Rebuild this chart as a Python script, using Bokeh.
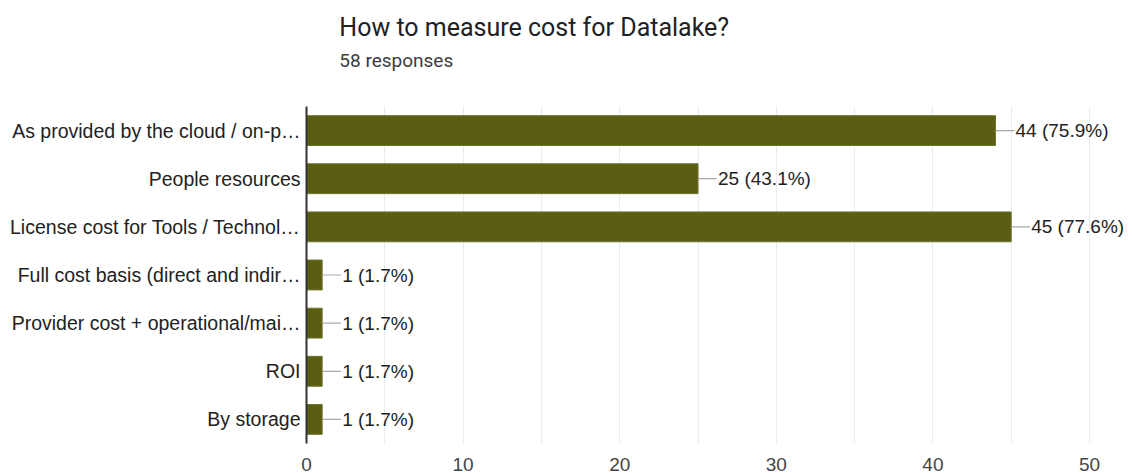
from bokeh.plotting import figure
from bokeh.layouts import column
from bokeh.models import FactorRange, Range1d, FixedTicker, ColumnDataSource, LabelSet
from bokeh.core.properties import value
from bokeh.embed import file_html
from bokeh.resources import INLINE

categories = [
    "As provided by the cloud / on-p…",
    "People resources",
    "License cost for Tools / Technol…",
    "Full cost basis (direct and indir…",
    "Provider cost + operational/mai…",
    "ROI",
    "By storage",
]
counts = [44, 25, 45, 1, 1, 1, 1]
percents = ["75.9%", "43.1%", "77.6%", "1.7%", "1.7%", "1.7%", "1.7%"]
x_ticks = [0, 10, 20, 30, 40, 50]
x_max = 50
title_text = "How to measure cost for Datalake?"
subtitle_text = "58 responses"

labels = [f"{c} ({p})" for c, p in zip(counts, percents)]
src = ColumnDataSource(dict(cat=categories, count=counts, label=labels,
                            end=[c + 1.2 for c in counts]))
factors = list(reversed(categories))

# ---- header (title + subtitle) ----
head = figure(width=1132, height=106, x_range=Range1d(0, 1132), y_range=Range1d(106, 0),
              x_axis_type=None, y_axis_type=None, output_backend="svg",
              toolbar_location=None, min_border=0)
head.outline_line_color = None
head.grid.grid_line_color = None
head.text(x=[45], y=[27], text=[title_text], text_font=value("Roboto"),
          text_font_size="25px", text_baseline="middle", text_align="left",
          text_color="#202124")
head.text(x=[45], y=[60], text=[subtitle_text], text_font=value("Roboto"),
          text_font_size="19px", text_baseline="middle", text_align="left",
          text_color="#3c3c3c")

# ---- bar chart ----
frame_left = 306
px_per_unit = (1089 - 306) / x_max
p = figure(
    width=1132, height=367,
    y_range=FactorRange(factors=factors, range_padding=0),
    x_range=Range1d(0, (1132 - frame_left) / px_per_unit),
    output_backend="svg", toolbar_location=None,
    min_border_left=frame_left, min_border_right=0, min_border_top=0, min_border_bottom=30,
)
p.outline_line_color = None
p.background_fill_color = "white"
p.border_fill_color = "white"

p.ygrid.grid_line_color = None
p.xgrid.ticker = FixedTicker(ticks=list(range(0, x_max + 1, 5)))
p.xgrid.grid_line_color = "#ebebeb"

p.hbar(y="cat", right="count", left=0, height=0.62, source=src,
       fill_color="#5a5e12", line_color="#6f7330", line_width=1)

p.segment(x0="count", y0="cat", x1="end", y1="cat", source=src,
          line_color="#a8a8a8", line_width=1.2)
p.add_layout(LabelSet(x="count", y="cat", text="label", x_offset=20, source=src,
                      text_baseline="middle", text_align="left",
                      text_font=value("Liberation Sans"), text_font_size="19px",
                      text_color="#222222"))

xa = p.xaxis[0]
xa.ticker = FixedTicker(ticks=x_ticks)
xa.axis_line_color = None
xa.major_tick_line_color = None
xa.minor_tick_line_color = None
xa.major_label_text_font = "Liberation Sans"
xa.major_label_text_font_size = "19px"
xa.major_label_text_color = "#444444"
xa.major_label_standoff = 8

ya = p.yaxis[0]
ya.axis_line_color = "#333333"
ya.axis_line_width = 2
ya.major_tick_line_color = None
ya.minor_tick_line_color = None
ya.major_label_text_font = "Liberation Sans"
ya.major_label_text_font_size = "19.5px"
ya.major_label_text_color = "#222222"
ya.major_label_standoff = 0

layout = column(head, p, spacing=0)
open("out.html", "w").write(file_html(layout, INLINE))
